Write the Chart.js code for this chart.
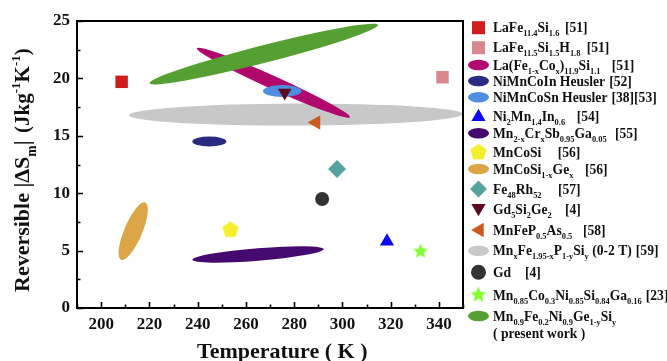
<!DOCTYPE html>
<html><head><meta charset="utf-8">
<script src="https://cdn.jsdelivr.net/npm/chart.js"></script>
<style>html,body{margin:0;padding:0;background:#fff;overflow:hidden}canvas{display:block}</style>
</head><body>
<canvas id="c" width="667" height="361"></canvas>
<script>
// ---------------- data ----------------
const xTicks = [200, 220, 240, 260, 280, 300, 320, 340];
const yTicks = [0, 5, 10, 15, 20, 25];

// single materials: temperature (K), reversible |dSm| (J/kg K)
const laFeSi      = [{x: 208.5, y: 19.7}];
const laFeSiH     = [{x: 341.5, y: 20.1}];
const ni2MnIn     = [{x: 318.5, y: 5.8}];
const mnCoSi      = [{x: 253.6, y: 6.8}];
const feRh        = [{x: 297.8, y: 12.1}];
const gd5Si2Ge2   = [{x: 276.1, y: 18.75}];
const mnFePAs     = [{x: 289.1, y: 16.15}];
const gd          = [{x: 291.6, y: 9.5}];
const mnCoNiSiGa  = [{x: 332.4, y: 4.93}];

// material families shown as regions: the two ends of each region's long axis
const mnFePSi     = [{x: 211.5, y: 16.8},  {x: 349.8, y: 16.9}];
const laFeCoSi    = [{x: 239.7, y: 22.63}, {x: 303.1, y: 16.62}];
const presentWork = [{x: 220.1, y: 19.58}, {x: 314.8, y: 24.66}];
const niMnCoIn    = [{x: 237.8, y: 14.5},  {x: 251.9, y: 14.5}];
const niMnCoSn    = [{x: 267.1, y: 18.9},  {x: 283.1, y: 18.9}];
const mnCrSbGa    = [{x: 237.8, y: 4.2},   {x: 292.3, y: 5.13}];
const mnCoSiGe    = [{x: 208.3, y: 4.2},   {x: 218.3, y: 9.19}];

const legendNames = [
  'LaFe_{11.4}Si_{1.6}',
  'LaFe_{11.5}Si_{1.5}H_{1.8}',
  'La(Fe_{1-x}Co_{x})_{11.9}Si_{1.1}',
  'NiMnCoIn Heusler',
  'NiMnCoSn Heusler',
  'Ni_{2}Mn_{1.4}In_{0.6}',
  'Mn_{2-x}Cr_{x}Sb_{0.95}Ga_{0.05}',
  'MnCoSi',
  'MnCoSi_{1-x}Ge_{x}',
  'Fe_{48}Rh_{52}',
  'Gd_{5}Si_{2}Ge_{2}',
  'MnFeP_{0.5}As_{0.5}',
  'Mn_{x}Fe_{1.95-x}P_{1-y}Si_{y} (0-2 T)',
  'Gd',
  'Mn_{0.85}Co_{0.3}Ni_{0.85}Si_{0.84}Ga_{0.16}',
  'Mn_{0.9}Fe_{0.2}Ni_{0.9}Ge_{1-y}Si_{y}'
];
const legendRefs = ['[51]','[51]','[51]','[52]','[38][53]','[54]','[55]','[56]','[56]','[57]','[4]','[58]','[59]','[4]','[23]',''];
const legendNote = '( present work )';

// ---------------- styles / layout ----------------
const C = {
  red:'#d01c1f', pink:'#d8888e', magenta:'#b0086c', navy:'#2a2a80', lblue:'#4d8ee0',
  blue:'#0a0af5', purple:'#440a70', yellow:'#f3ef2b', orange:'#dca647', teal:'#55a39f',
  dred:'#5c0a1e', rust:'#cc5a1f', gray:'#c8c8c8', gdgray:'#333333', lime:'#80ff2e', green:'#569f32'
};
const FONT = '"Liberation Serif", "Times New Roman", serif';

function makePentagon(color, r) {
  const cv = document.createElement('canvas'); const s = Math.ceil(r * 2 + 2);
  cv.width = s; cv.height = s; const g = cv.getContext('2d');
  g.fillStyle = color; g.beginPath();
  for (let i = 0; i < 5; i++) { const a = -Math.PI / 2 + i * 2 * Math.PI / 5;
    g.lineTo(s / 2 + r * Math.cos(a), s / 2 + r * Math.sin(a)); }
  g.closePath(); g.fill(); return cv;
}
function makeStar(color, r, ri) {
  const cv = document.createElement('canvas'); const s = Math.ceil(r * 2 + 2);
  cv.width = s; cv.height = s; const g = cv.getContext('2d');
  g.fillStyle = color; g.beginPath();
  for (let i = 0; i < 10; i++) { const a = -Math.PI / 2 + i * Math.PI / 5; const rr = i % 2 ? ri : r;
    g.lineTo(s / 2 + rr * Math.cos(a), s / 2 + rr * Math.sin(a)); }
  g.closePath(); g.fill(); return cv;
}
const pentagonImg = makePentagon(C.yellow, 8.5);
const starImg = makeStar(C.lime, 8, 3.4);
const pentagonLeg = makePentagon(C.yellow, 8.5);
const starLeg = makeStar(C.lime, 8.5, 3.6);

function pointDs(label, data, style, color, radius, rotation) {
  return { label, data, pointStyle: style, backgroundColor: color, borderColor: color,
    pointRadius: radius, pointBorderWidth: 0, pointRotation: rotation || 0, showLine: false };
}
function regionDs(label, data, color, thickness) {
  return { label, data, backgroundColor: color, borderColor: color, pointRadius: 0,
    pointHoverRadius: 0, showLine: false, region: { thickness } };
}

const datasets = [
  pointDs('Gd5Si2Ge2', gd5Si2Ge2, 'triangle', C.dred, 7.8, 180),
  pointDs('MnFeP0.5As0.5', mnFePAs, 'triangle', C.rust, 8.4, 270),
  pointDs('LaFe11.4Si1.6', laFeSi, 'rect', C.red, 8.8),
  pointDs('LaFe11.5Si1.5H1.8', laFeSiH, 'rect', C.pink, 8.8),
  pointDs('Ni2Mn1.4In0.6', ni2MnIn, 'triangle', C.blue, 8.2),
  pointDs('MnCoSi', mnCoSi, pentagonImg, C.yellow, 8),
  pointDs('Fe48Rh52', feRh, 'rectRot', C.teal, 9),
  pointDs('Gd', gd, 'circle', C.gdgray, 7),
  pointDs('Mn0.85Co0.3Ni0.85Si0.84Ga0.16', mnCoNiSiGa, starImg, C.lime, 8),
  // regions, drawn underneath in this order
  regionDs('MnxFe1.95-xP1-ySiy', mnFePSi, C.gray, 22),
  regionDs('La(Fe1-xCox)11.9Si1.1', laFeCoSi, C.magenta, 13),
  regionDs('present work', presentWork, C.green, 17.5),
  regionDs('NiMnCoIn Heusler', niMnCoIn, C.navy, 10),
  regionDs('NiMnCoSn Heusler', niMnCoSn, C.lblue, 12),
  regionDs('Mn2-xCrxSb0.95Ga0.05', mnCrSbGa, C.purple, 12.5),
  regionDs('MnCoSi1-xGex', mnCoSiGe, C.orange, 18)
];

// legend markers & layout
const legendMarks = [
  ['rect', C.red], ['rect', C.pink], ['ell', C.magenta], ['ell', C.navy], ['ell', C.lblue],
  ['tri', C.blue], ['ell', C.purple], ['pent', C.yellow], ['ell', C.orange], ['dia', C.teal],
  ['tridown', C.dred], ['trileft', C.rust], ['ell', C.gray], ['circ', C.gdgray], ['star', C.lime], ['ell', C.green]
];
const legendY = [27.7, 47.7, 65, 81, 97.3, 116, 133.3, 152.3, 169, 189, 209, 230, 250.7, 272.3, 295, 316];
const legendNoteY = 333.3;
const legendRefX = [565, 586.7, 611.7, null, null, 576.7, 615, 557.7, 585, 558, 565, 583, null, 525, null, null];
const LEG_MARK_X = 478.5, LEG_TEXT_X = 493;

function parseRich(s) {
  const out = []; const re = /([_^])\{([^}]*)\}|([^_^]+)/g; let m;
  while ((m = re.exec(s))) {
    if (m[3] !== undefined) out.push({ t: m[3], k: 'n' });
    else out.push({ t: m[2], k: m[1] === '_' ? 'sub' : 'sup' });
  }
  return out;
}
function drawRich(ctx, s, x, y, size) {
  for (const p of parseRich(s)) {
    const fs = p.k === 'n' ? size : size * 0.62;
    ctx.font = 'bold ' + fs + 'px ' + FONT;
    const dy = p.k === 'sub' ? size * 0.3 : p.k === 'sup' ? -size * 0.42 : 0;
    ctx.fillText(p.t, x, y + dy);
    x += ctx.measureText(p.t).width;
  }
  return x;
}
function poly(ctx, cx, cy, r, n, rot) {
  ctx.beginPath();
  for (let i = 0; i < n; i++) { const a = rot + i * 2 * Math.PI / n; ctx.lineTo(cx + r * Math.cos(a), cy + r * Math.sin(a)); }
  ctx.closePath(); ctx.fill();
}

const regionPlugin = {
  id: 'regions',
  beforeDatasetsDraw(chart) {
    const ctx = chart.ctx; const a = chart.chartArea;
    ctx.save(); ctx.beginPath(); ctx.rect(a.left, a.top, a.right - a.left, a.bottom - a.top); ctx.clip();
    chart.data.datasets.forEach((ds, i) => {
      if (!ds.region) return;
      const pts = chart.getDatasetMeta(i).data;
      const p1 = pts[0], p2 = pts[1];
      const cx = (p1.x + p2.x) / 2, cy = (p1.y + p2.y) / 2;
      const len = Math.hypot(p2.x - p1.x, p2.y - p1.y) / 2;
      const ang = Math.atan2(p2.y - p1.y, p2.x - p1.x);
      ctx.fillStyle = ds.backgroundColor;
      ctx.beginPath(); ctx.ellipse(cx, cy, len, ds.region.thickness / 2, ang, 0, 2 * Math.PI); ctx.fill();
    });
    ctx.restore();
  },
  afterDraw(chart) {
    const ctx = chart.ctx; const a = chart.chartArea;
    const xs = chart.scales.x, ys = chart.scales.y;
    ctx.save();
    // frame
    ctx.strokeStyle = '#000'; ctx.lineWidth = 2;
    ctx.strokeRect(a.left, a.top, a.right - a.left, a.bottom - a.top);
    // inward ticks
    ctx.lineWidth = 1.6; ctx.beginPath();
    for (let v = 190; v <= 350; v += 10) {
      const px = Math.round(xs.getPixelForValue(v)) + 0.5; const L = v % 20 === 0 ? 6 : 3.5;
      ctx.moveTo(px, a.bottom); ctx.lineTo(px, a.bottom - L);
    }
    for (let v = 0; v <= 25; v += 2.5) {
      const py = Math.round(ys.getPixelForValue(v)) + 0.5; const L = v % 5 === 0 ? 6 : 3.5;
      ctx.moveTo(a.left, py); ctx.lineTo(a.left + L, py);
    }
    ctx.stroke();
    // axis titles
    ctx.fillStyle = '#111'; ctx.textBaseline = 'alphabetic'; ctx.textAlign = 'left';
    ctx.font = 'bold 22px ' + FONT;
    ctx.fillText('Temperature ( K )', 197, 358);
    ctx.save(); ctx.translate(29, 292); ctx.rotate(-Math.PI / 2);
    let tx = drawRich(ctx, 'Reversible |\u0394S_{m}| ', 0, 0, 22);
    drawRich(ctx, '(Jkg^{-1}K^{-1})', tx + 2, 0, 21);
    ctx.restore();
    // legend
    legendNames.forEach((name, i) => {
      const y = legendY[i]; const [m, col] = legendMarks[i]; const x = LEG_MARK_X;
      ctx.fillStyle = col;
      if (m === 'rect') ctx.fillRect(x - 6.5, y - 6.5, 13, 13);
      else if (m === 'ell') { ctx.beginPath(); ctx.ellipse(x, y, 10.5, 5.3, 0, 0, 2 * Math.PI); ctx.fill(); }
      else if (m === 'tri') poly(ctx, x, y + 1, 8.2, 3, -Math.PI / 2);
      else if (m === 'tridown') poly(ctx, x, y - 1, 8.2, 3, Math.PI / 2);
      else if (m === 'trileft') poly(ctx, x + 1, y, 8.4, 3, Math.PI);
      else if (m === 'dia') poly(ctx, x, y, 8.5, 4, 0);
      else if (m === 'circ') { ctx.beginPath(); ctx.arc(x, y, 7.5, 0, 2 * Math.PI); ctx.fill(); }
      else if (m === 'pent') ctx.drawImage(pentagonLeg, x - pentagonLeg.width / 2, y - pentagonLeg.height / 2);
      else if (m === 'star') ctx.drawImage(starLeg, x - starLeg.width / 2, y - starLeg.height / 2);
      ctx.fillStyle = '#111';
      let ex = drawRich(ctx, name, LEG_TEXT_X, y + 4.7, 13.6);
      if (legendRefs[i]) {
        const rx = legendRefX[i] != null ? legendRefX[i] : ex + 4;
        drawRich(ctx, legendRefs[i], rx, y + 4.7, 13.6);
      }
    });
    drawRich(ctx, legendNote, LEG_TEXT_X, legendNoteY + 4.7, 13.6);
    ctx.restore();
  }
};

const tickFont = { family: FONT, weight: 'bold', size: 17 };
new Chart(document.getElementById('c'), {
  type: 'scatter',
  data: { datasets },
  options: {
    responsive: false, animation: false, events: [],
    layout: { padding: { left: 0, right: 204, top: 21, bottom: 0 } },
    plugins: { legend: { display: false }, tooltip: { enabled: false } },
    scales: {
      x: {
        type: 'linear', min: 190, max: 350,
        grid: { display: false, drawTicks: false }, border: { display: false },
        ticks: { font: tickFont, color: '#111', padding: 6, maxRotation: 0 },
        afterBuildTicks: s => { s.ticks = xTicks.map(v => ({ value: v })); },
        afterFit: s => { s.height = 53; }
      },
      y: {
        type: 'linear', min: 0, max: 25,
        grid: { display: false, drawTicks: false }, border: { display: false },
        ticks: { font: tickFont, color: '#111', padding: 7 },
        afterBuildTicks: s => { s.ticks = yTicks.map(v => ({ value: v })); },
        afterFit: s => { s.width = 77; }
      }
    }
  },
  plugins: [regionPlugin]
});
</script>
</body></html>
